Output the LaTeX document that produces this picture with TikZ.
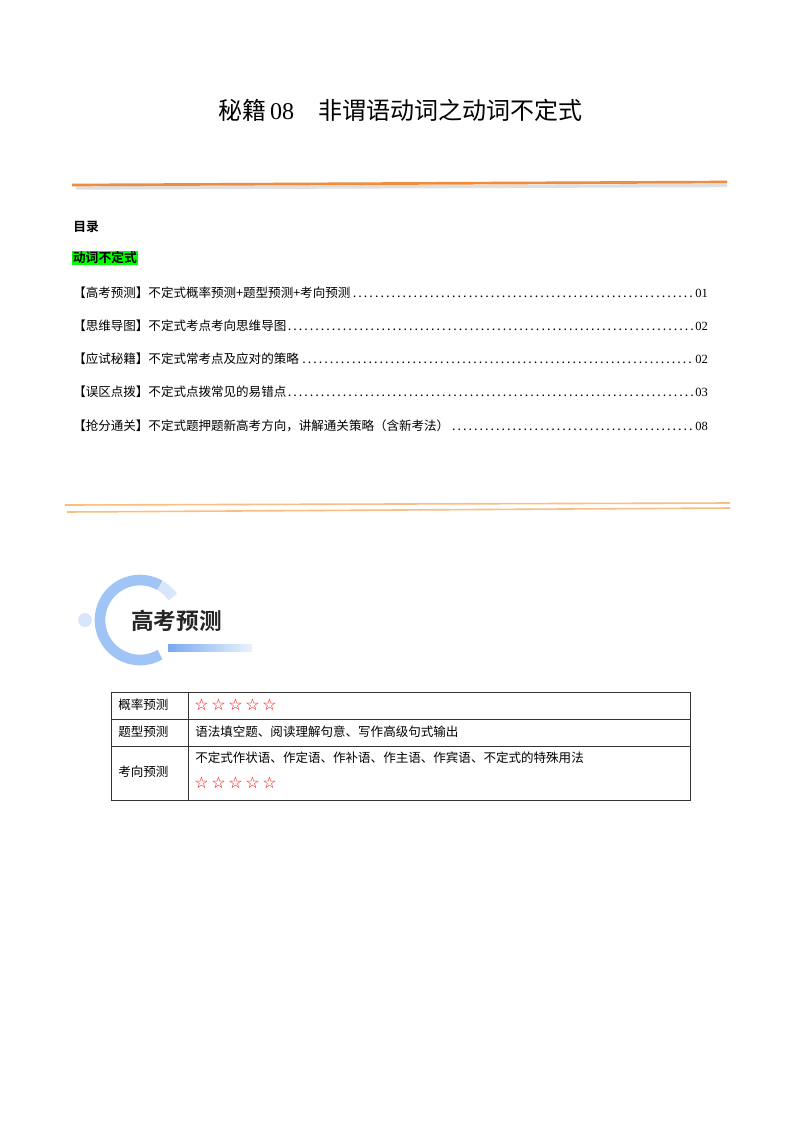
\documentclass[tikz,border=0pt]{standalone}
\usepackage{fontspec}
\setmainfont{Liberation Serif}
\newfontfamily\cjk{Noto Sans CJK SC}
\newfontfamily\cjkb{Noto Sans CJK SC Bold}
\newfontfamily\sym{DejaVu Sans}
\usetikzlibrary{shadings}
\definecolor{org}{RGB}{240,140,60}
\definecolor{lorg}{RGB}{250,190,130}
\definecolor{bl}{RGB}{120,170,240}
\definecolor{lbl}{RGB}{215,230,250}
\begin{document}
\begin{tikzpicture}[x=0.75pt,y=-0.75pt,
  toc/.style={anchor=west,inner sep=0,text width=476pt,font=\cjk\fontsize{9.4}{11}\selectfont},
  cell/.style={anchor=west,inner sep=0,font=\cjk\fontsize{9.4}{11}\selectfont},
  stars/.style={anchor=west,inner sep=0,text=red,font=\sym\bfseries\fontsize{12}{13}\selectfont}]
\useasboundingbox (0,0) rectangle (800,1132);
\fill[white] (0,0) rectangle (800,1132);
\node (title) at (400,110) {\cjk\fontsize{18}{20}\selectfont 秘籍\,{\rmfamily 08}\quad 非谓语动词之动词不定式};
% orange line with shadow
\draw[gray!25,line width=2.5pt] (76,188) -- (727,185.5);
\draw[org,line width=2pt] (72,185) -- (727,182);
\node[anchor=west,inner sep=0] (ml) at (73,227) {\cjkb\fontsize{9.6}{11}\selectfont 目录};
\node[anchor=west,inner sep=0.5pt,fill=green] (hl) at (72,258) {\cjkb\fontsize{9.6}{11}\selectfont 动词不定式};
\node[toc] (t1) at (73,293) {【高考预测】不定式概率预测+题型预测+考向预测\dotfill{\rmfamily 01}};
\node[toc] (t2) at (73,326) {【思维导图】不定式考点考向思维导图\dotfill{\rmfamily 02}};
\node[toc] (t3) at (73,359) {【应试秘籍】不定式常考点及应对的策略\dotfill{\rmfamily 02}};
\node[toc] (t4) at (73,392) {【误区点拨】不定式点拨常见的易错点\dotfill{\rmfamily 03}};
\node[toc] (t5) at (73,426) {【抢分通关】不定式题押题新高考方向，讲解通关策略（含新考法）\dotfill{\rmfamily 08}};
% double lines
\draw[lorg,line width=1.2pt] (65,505) -- (730,503);
\draw[lorg,line width=1.2pt] (67,512) -- (730,508);
% heading graphic
\fill[lbl] (85,620) circle (7);
\draw[bl!70,line width=8pt] (160,585.4) arc (-60:-300:40);
\draw[lbl,line width=8pt] (160,585.4) arc (-60:-35:40);
\shade[left color=bl,right color=lbl!50] (168,644) rectangle (252,651);
\node[anchor=west,inner sep=0] (hd) at (131,621) {\cjkb\fontsize{17}{19}\selectfont\color{black!85} 高考预测};
% table
\draw[black!80,line width=0.7pt] (111,692) rectangle (690,800);
\draw[black!80,line width=0.7pt] (111,719) -- (690,719) (111,746) -- (690,746) (188,692) -- (188,800);
\node[cell] (a1) at (118,705) {概率预测};
\node[stars] (b1) at (194,705) {☆\,☆\,☆\,☆\,☆};
\node[cell] (a2) at (118,732) {题型预测};
\node[cell] (b2) at (195,732) {语法填空题、阅读理解句意、写作高级句式输出};
\node[cell] (a3) at (118,772) {考向预测};
\node[cell] (b3) at (195,758) {不定式作状语、作定语、作补语、作主语、作宾语、不定式的特殊用法};
\node[stars] (b4) at (194,783) {☆\,☆\,☆\,☆\,☆};
\end{tikzpicture}
\end{document}
